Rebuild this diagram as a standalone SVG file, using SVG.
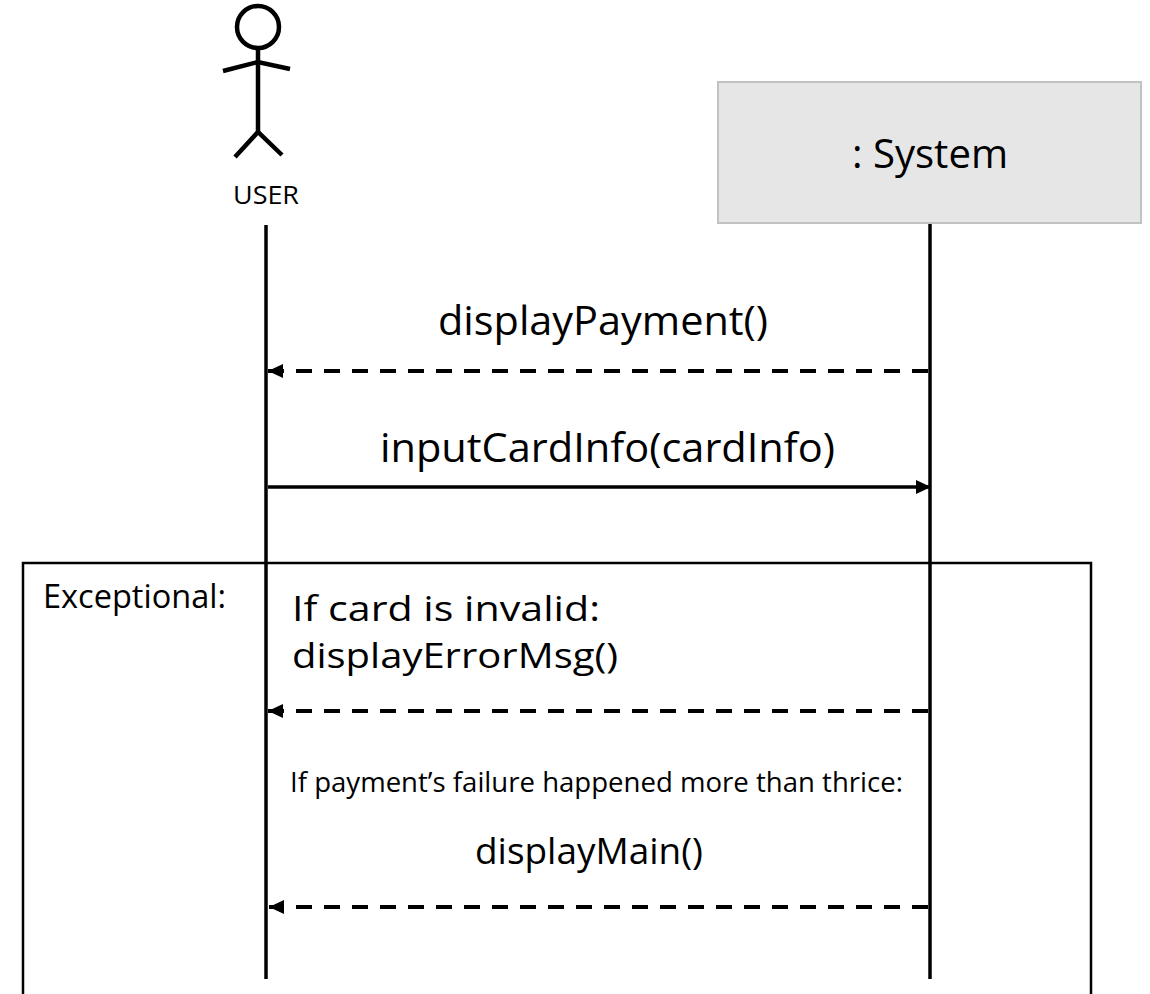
<svg xmlns="http://www.w3.org/2000/svg" width="1150" height="994" viewBox="0 0 1150 994">
  <style>
    text { font-family: "Open Sans", "Liberation Sans", sans-serif; fill: #000; }
    .life { stroke: #000; stroke-width: 3.5; fill: none; }
    .msg { stroke: #000; stroke-width: 3.5; fill: none; }
    .ret { stroke: #000; stroke-width: 4; fill: none; stroke-dasharray: 16 12; }
    .actor { stroke: #000; stroke-width: 4.5; fill: none; stroke-linecap: butt; }
  </style>
  <defs>
    <marker id="ah" viewBox="0 0 15 14" refX="15" refY="7" markerWidth="15" markerHeight="14" markerUnits="userSpaceOnUse" orient="auto">
      <path d="M0,0 L15,7 L0,14 Z" fill="#000"/>
    </marker>
  </defs>
  <rect width="1150" height="994" fill="#fff"/>

  <g id="frame-exceptional">
    <path d="M23,994 L23,563 L1091,563 L1091,994" fill="none" stroke="#000" stroke-width="2.5"/>
    <text x="43" y="608" font-size="32" textLength="183" lengthAdjust="spacingAndGlyphs">Exceptional:</text>
  </g>

  <g id="actor-user">
    <circle cx="258" cy="27" r="21" class="actor"/>
    <line x1="258" y1="48" x2="258" y2="132" class="actor"/>
    <polyline points="223,71 258,62 290,69" class="actor"/>
    <polyline points="235,157 258,132 282,155" class="actor"/>
    <text x="233" y="204" font-size="25" textLength="66" lengthAdjust="spacingAndGlyphs">USER</text>
  </g>

  <g id="system">
    <rect x="718" y="82" width="423" height="141" fill="#e6e6e6" stroke="#c2c2c2" stroke-width="2"/>
    <text x="852" y="168" font-size="40" textLength="156" lengthAdjust="spacingAndGlyphs">: System</text>
  </g>

  <g id="lifelines">
    <line x1="266" y1="225" x2="266" y2="979" class="life"/>
    <line x1="930" y1="224" x2="930" y2="979" class="life"/>
  </g>

  <g id="connectors">
    <path d="M928,371 L268,371" class="ret" marker-end="url(#ah)"/>
    <text x="438" y="335" font-size="41" textLength="330" lengthAdjust="spacingAndGlyphs">displayPayment()</text>

    <path d="M268,487 L931,487" class="msg" marker-end="url(#ah)"/>
    <text x="380" y="462" font-size="41" textLength="455" lengthAdjust="spacingAndGlyphs">inputCardInfo(cardInfo)</text>

    <text x="292" y="621" font-size="34" textLength="308" lengthAdjust="spacingAndGlyphs">If card is invalid:</text>
    <text x="292" y="668" font-size="34" textLength="326" lengthAdjust="spacingAndGlyphs">displayErrorMsg()</text>
    <path d="M928,711 L268,711" class="ret" marker-end="url(#ah)"/>

    <text x="290" y="792" font-size="27" textLength="613" lengthAdjust="spacingAndGlyphs">If payment’s failure happened more than thrice:</text>
    <text x="475" y="864" font-size="37" textLength="228" lengthAdjust="spacingAndGlyphs">displayMain()</text>
    <path d="M928,907 L269,907" class="ret" marker-end="url(#ah)"/>
  </g>
</svg>
